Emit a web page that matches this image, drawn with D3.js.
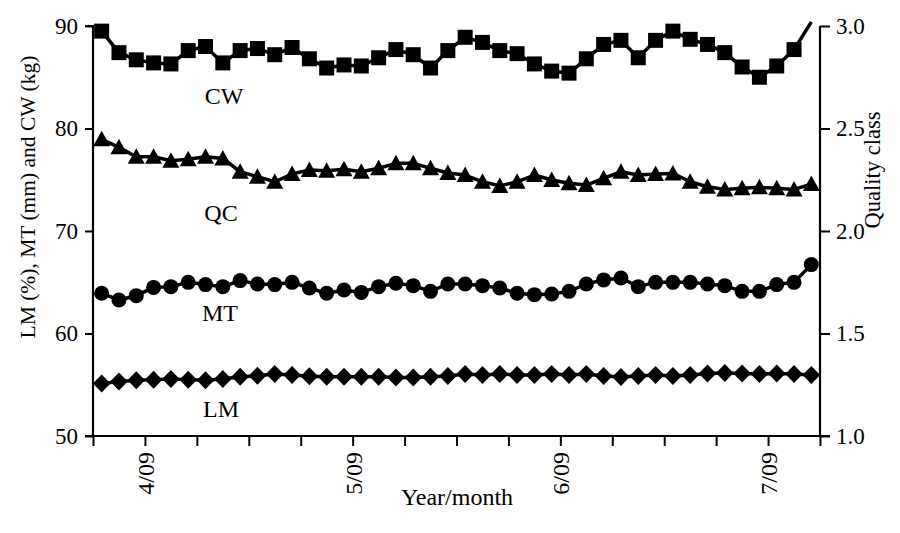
<!DOCTYPE html>
<html>
<head>
<meta charset="utf-8">
<script src="https://cdn.jsdelivr.net/npm/d3@7"></script>
<style>
  body { margin: 0; background: #fff; }
  svg text { font-family: "Liberation Serif", "DejaVu Serif", serif; fill: #000; }
</style>
</head>
<body>
<div id="chart"></div>
<script>
// weekly-ish samples, 3 per tick interval
const cw = [89.5, 87.4, 86.7, 86.4, 86.3, 87.6, 88.0, 86.4, 87.6, 87.8, 87.2, 87.9, 86.8, 85.9, 86.2, 86.1, 86.9, 87.7, 87.2, 85.9,
  87.6, 88.9, 88.4, 87.6, 87.3, 86.3, 85.6, 85.4, 86.8, 88.2, 88.6, 86.9, 88.6, 89.5, 88.7, 88.2, 87.4, 86.0, 85.0, 86.1, 87.7, 90.4];
const qc = [2.447, 2.408, 2.362, 2.362, 2.343, 2.350, 2.362, 2.354, 2.289, 2.265, 2.240, 2.278, 2.298, 2.294, 2.301, 2.289, 2.306, 2.330, 2.330, 2.306,
  2.283, 2.273, 2.240, 2.220, 2.240, 2.273, 2.249, 2.233, 2.224, 2.257, 2.289, 2.273, 2.278, 2.281, 2.240, 2.216, 2.203, 2.208, 2.213, 2.208, 2.203, 2.229];
const mt = [63.92, 63.27, 63.69, 64.5, 64.57, 64.99, 64.77, 64.57, 65.16, 64.83, 64.77, 64.99, 64.44, 63.92, 64.25, 64.01, 64.57, 64.9, 64.67, 64.11,
  64.83, 64.83, 64.67, 64.44, 63.92, 63.79, 63.86, 64.11, 64.83, 65.23, 65.42, 64.57, 64.99, 64.99, 64.99, 64.83, 64.67, 64.11, 64.11, 64.77, 64.99, 66.72];
const lm = [55.11, 55.31, 55.44, 55.5, 55.55, 55.5, 55.44, 55.57, 55.77, 55.87, 56.04, 55.94, 55.84, 55.77, 55.77, 55.77, 55.77, 55.7, 55.7, 55.77,
  55.85, 56.05, 55.95, 56.05, 55.95, 55.95, 56.05, 55.95, 56.05, 55.85, 55.75, 55.85, 55.95, 55.85, 55.95, 56.1, 56.15, 56.1, 56.05, 56.1, 56.05, 55.95];

const leftTicks = [50, 60, 70, 80, 90];
const rightTicks = [1.0, 1.5, 2.0, 2.5, 3.0];
const monthLabels = ['4/09', '5/09', '6/09', '7/09'];
const monthTickIdx = [1, 5, 9, 13];

const W = 900, H = 533;
const x0 = 93, x1 = 820, yTop = 26, yBot = 436;

const svg = d3.select('#chart').append('svg')
  .attr('width', W).attr('height', H);

const n = cw.length;
const x = d3.scaleLinear().domain([0, n]).range([x0, x1]);
const yL = d3.scaleLinear().domain([50, 90]).range([yBot, yTop]);
const yR = d3.scaleLinear().domain([1, 3]).range([yBot, yTop]);

const px = (d, i) => x(i + 0.5);

// axes
const axL = svg.append('g').attr('transform', `translate(${x0},0)`)
  .call(d3.axisLeft(yL).tickValues(leftTicks).tickSize(8).tickPadding(7).tickFormat(d3.format('d')));
const axR = svg.append('g').attr('transform', `translate(${x1},0)`)
  .call(d3.axisRight(yR).tickValues(rightTicks).tickSize(10).tickPadding(6).tickFormat(d3.format('.1f')));
const tickIdx = d3.range(0, n + 1, 3);
const axB = svg.append('g').attr('transform', `translate(0,${yBot})`)
  .call(d3.axisBottom(x).tickValues(tickIdx).tickSize(10).tickFormat(''));

[axL, axR, axB].forEach(a => {
  a.select('.domain').attr('stroke', '#000').attr('stroke-width', 2.2);
  a.selectAll('.tick line').attr('stroke', '#000').attr('stroke-width', 2);
  a.selectAll('.tick text').style('font-size', '23px')
    .style('font-family', '"Liberation Serif", serif').attr('fill', '#000');
});
axL.select('.domain').attr('d', `M-8,${yBot}H0V${yTop}H-8`);
axR.select('.domain').attr('d', `M0,${yTop}V${yBot}`);
axB.select('.domain').attr('d', `M${x0 - 8},0H${x1 + 10}`);

// month labels, rotated
svg.append('g').selectAll('text').data(monthLabels)
  .join('text')
  .attr('transform', (d, i) => `translate(${x(monthTickIdx[i] * 3) + 9},452) rotate(-90)`)
  .attr('text-anchor', 'end')
  .style('font-size', '24px')
  .text(d => d);

// axis titles
svg.append('text')
  .attr('transform', `translate(35,197) rotate(-90)`)
  .attr('text-anchor', 'middle')
  .style('font-size', '21.5px')
  .text('LM (%), MT (mm) and CW (kg)');
svg.append('text')
  .attr('transform', `translate(880,170) rotate(-90)`)
  .attr('text-anchor', 'middle')
  .style('font-size', '22.5px')
  .text('Quality class');
svg.append('text')
  .attr('x', 457).attr('y', 505)
  .attr('text-anchor', 'middle')
  .style('font-size', '24px')
  .text('Year/month');

// series
const series = [
  { key: 'CW', values: cw, y: yL, shape: 'square', label: [224, 104] },
  { key: 'QC', values: qc, y: yR, shape: 'triangle', label: [221, 221] },
  { key: 'MT', values: mt, y: yL, shape: 'circle', label: [220, 321] },
  { key: 'LM', values: lm, y: yL, shape: 'diamond', label: [221, 417] }
];

const shapes = {
  square: 'M-7.5,-7.5H7.5V7.5H-7.5Z',
  triangle: 'M0,-8.5L8.5,7L-8.5,7Z',
  circle: 'M-7.5,0A7.5,7.5 0 1,0 7.5,0A7.5,7.5 0 1,0 -7.5,0Z',
  diamond: 'M0,-9L8.8,0L0,9L-8.8,0Z'
};

series.forEach(s => {
  const line = d3.line().x(px).y(d => s.y(d));
  svg.append('path')
    .attr('d', line(s.values))
    .attr('fill', 'none')
    .attr('stroke', '#000')
    .attr('stroke-width', 3.5)
    .attr('stroke-linejoin', 'round');

  const top = s.y.domain()[1];
  svg.append('g').selectAll('path')
    .data(s.values.map((v, i) => ({ v, i })).filter(d => d.v <= top))
    .join('path')
    .attr('transform', d => `translate(${px(d.v, d.i)},${s.y(d.v)})`)
    .attr('d', shapes[s.shape])
    .attr('fill', '#000');

  svg.append('text')
    .attr('x', s.label[0]).attr('y', s.label[1])
    .attr('text-anchor', 'middle')
    .style('font-size', '24px')
    .text(s.key);
});
</script>
</body>
</html>
